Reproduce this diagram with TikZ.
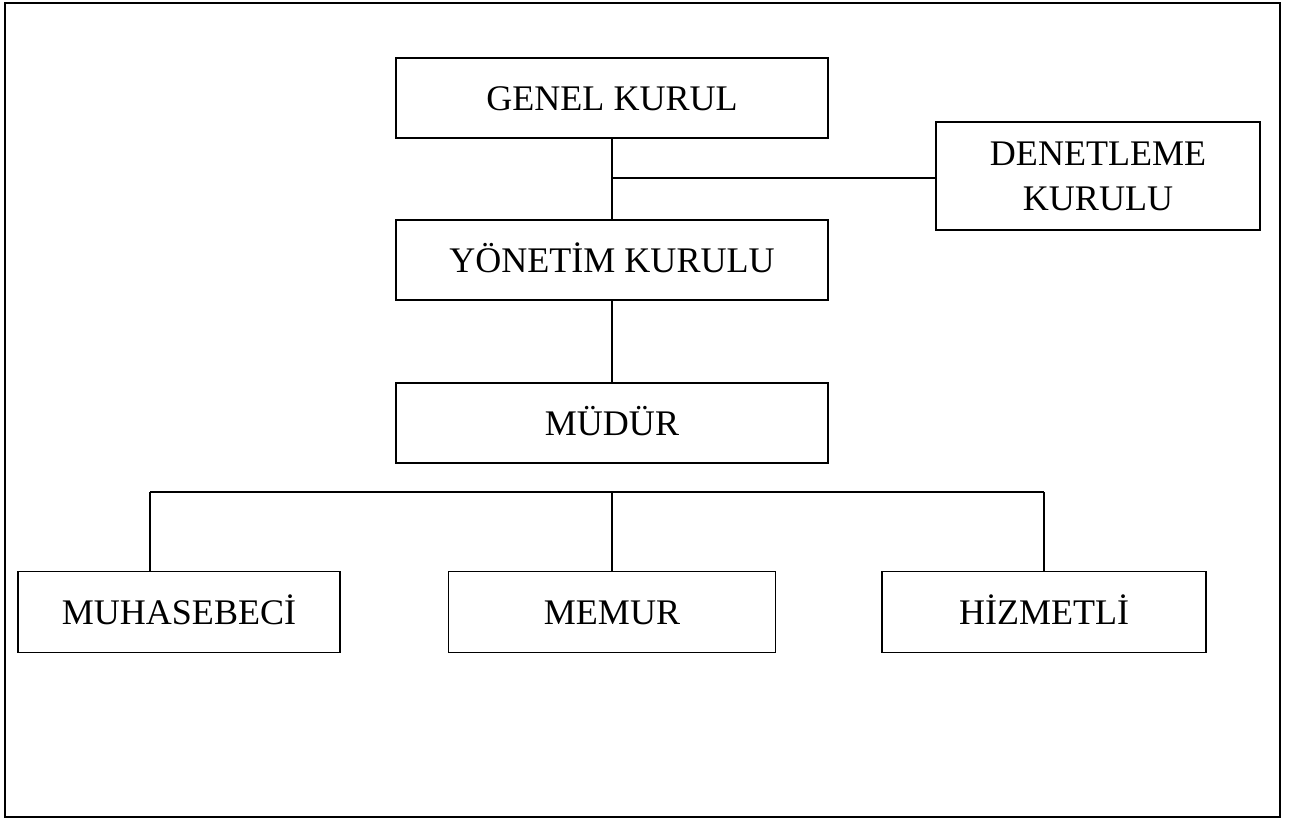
\documentclass[tikz,border=0pt]{standalone}
\usepackage{fontspec}
\setmainfont{Liberation Serif}
\usetikzlibrary{calc}
\usetikzlibrary{positioning}

\begin{document}
\begin{tikzpicture}[x=0.02cm, y=-0.02cm,
    kutu/.style={rectangle,draw=black,line width=1.1pt,inner sep=0pt,
        font=\fontsize{20.5}{25.5}\selectfont,align=center},
    tek/.style={kutu,text height=14pt,text depth=0pt},
    baglanti/.style={-,line width=1.1pt}]
    \useasboundingbox (0,0) rectangle (1300,820);
    \draw[line width=1.2pt] (5,3) rectangle (1280,817);
    % ust kisim
    \node[tek,minimum width=432*0.02cm,minimum height=80*0.02cm] (G) at (612,98) {GENEL KURUL};
    \node[kutu,minimum width=324*0.02cm,minimum height=108*0.02cm] (D) at (1098,176) {DENETLEME\\KURULU};
    \node[tek,minimum width=432*0.02cm,minimum height=80*0.02cm] (Y) at (612,260) {YÖNETİM KURULU};
    \node[tek,minimum width=432*0.02cm,minimum height=80*0.02cm] (M) at (612,423) {MÜDÜR};
    % alt kisim
    \node[tek,minimum width=322*0.02cm,minimum height=81*0.02cm] (MH) at (179,612) {MUHASEBECİ};
    \node[tek,minimum width=327*0.02cm,minimum height=81*0.02cm] (ME) at (612,612) {MEMUR};
    \node[tek,minimum width=324*0.02cm,minimum height=81*0.02cm] (HZ) at (1044,612) {HİZMETLİ};
    \coordinate (j) at (612,178);
    \coordinate (b1) at (150,492);
    \coordinate (b2) at (1044,492);
    \draw[baglanti] (G) -- (Y);
    \draw[baglanti] (j) -- (j -| D.west);
    \draw[baglanti] (Y) -- (M);
    \draw[baglanti] (b1) -- (b2);
    \draw[baglanti] (b1) -- (b1 |- MH.north);
    \draw[baglanti] (ME.north |- b1) -- (ME.north);
    \draw[baglanti] (b2) -- (HZ.north);
\end{tikzpicture}
\end{document}
